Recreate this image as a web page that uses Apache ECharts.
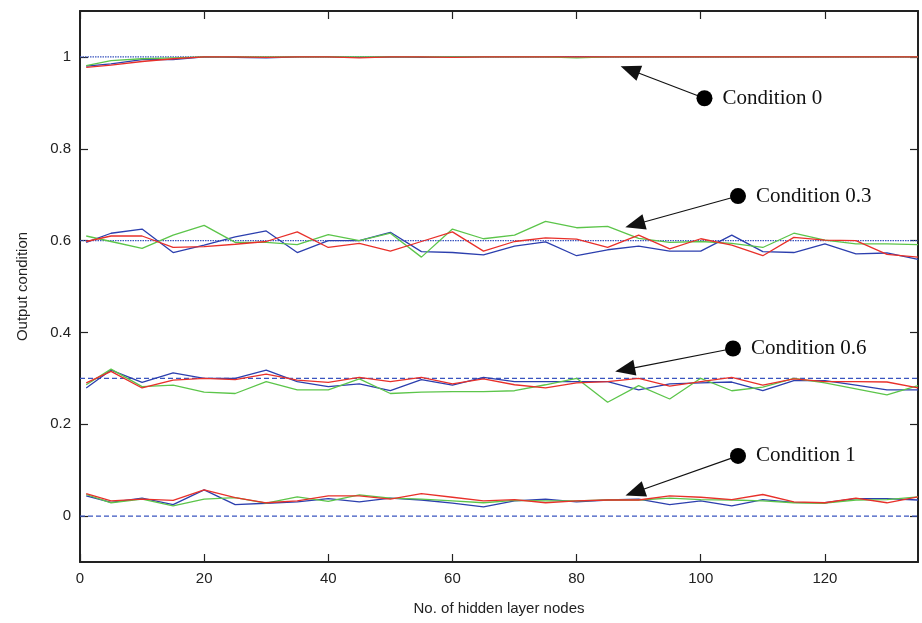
<!DOCTYPE html>
<html>
<head>
<meta charset="utf-8">
<script src="https://cdn.jsdelivr.net/npm/echarts@6/dist/echarts.min.js"></script>
<style>
  html, body { margin: 0; padding: 0; background: #fff; }
  #chart { width: 922px; height: 623px; }
</style>
</head>
<body>
<div id="chart"></div>
<script>
// hidden layer node counts (x)
var nodes = [1, 5, 10, 15, 20, 25, 30, 35, 40, 45, 50, 55, 60, 65, 70, 75, 80, 85, 90, 95, 100, 105, 110, 115, 120, 125, 130, 135];
var xTicks = [0, 20, 40, 60, 80, 100, 120];
var yTicks = [0, 0.2, 0.4, 0.6, 0.8, 1];

// condition 0 (target 1)
var c0Blue  = [0.980, 0.985, 0.994, 0.994, 1.000, 0.999, 0.998, 1.000, 1.000, 0.999, 1.000, 0.999, 1.000, 1.000, 1.000, 1.000, 1.000, 1.000, 1.000, 1.000, 1.000, 1.000, 1.000, 1.000, 1.000, 1.000, 1.000, 1.000];
var c0Red   = [0.977, 0.982, 0.990, 0.996, 1.000, 1.000, 0.999, 1.000, 1.000, 0.998, 1.000, 1.000, 0.999, 1.000, 1.000, 1.000, 1.000, 1.000, 1.000, 1.000, 1.000, 1.000, 1.000, 1.000, 1.000, 1.000, 1.000, 1.000];
var c0Green = [0.981, 0.992, 0.996, 0.998, 1.000, 1.000, 1.000, 1.000, 1.000, 1.000, 1.000, 1.000, 1.000, 1.000, 1.000, 1.000, 0.998, 1.000, 1.000, 1.000, 1.000, 1.000, 1.000, 1.000, 1.000, 1.000, 1.000, 1.000];

// condition 0.3 (target 0.6)
var c03Blue  = [0.596, 0.616, 0.625, 0.574, 0.590, 0.608, 0.621, 0.574, 0.600, 0.600, 0.618, 0.576, 0.574, 0.569, 0.588, 0.597, 0.567, 0.580, 0.588, 0.577, 0.577, 0.612, 0.576, 0.574, 0.593, 0.571, 0.573, 0.559];
var c03Red   = [0.598, 0.610, 0.610, 0.585, 0.587, 0.592, 0.598, 0.619, 0.585, 0.594, 0.577, 0.598, 0.619, 0.577, 0.598, 0.606, 0.603, 0.585, 0.612, 0.582, 0.604, 0.590, 0.567, 0.607, 0.601, 0.600, 0.570, 0.564];
var c03Green = [0.610, 0.598, 0.583, 0.612, 0.633, 0.596, 0.596, 0.591, 0.613, 0.600, 0.616, 0.564, 0.625, 0.604, 0.612, 0.642, 0.628, 0.631, 0.605, 0.596, 0.598, 0.594, 0.585, 0.616, 0.601, 0.593, 0.593, 0.591];

// condition 0.6 (target 0.3)
var c06Blue  = [0.279, 0.318, 0.291, 0.312, 0.300, 0.300, 0.318, 0.293, 0.282, 0.288, 0.273, 0.297, 0.285, 0.302, 0.293, 0.293, 0.293, 0.293, 0.275, 0.288, 0.290, 0.292, 0.273, 0.295, 0.295, 0.285, 0.275, 0.275];
var c06Red   = [0.290, 0.315, 0.279, 0.296, 0.300, 0.297, 0.309, 0.296, 0.291, 0.302, 0.293, 0.302, 0.288, 0.299, 0.286, 0.279, 0.290, 0.293, 0.300, 0.283, 0.293, 0.302, 0.285, 0.299, 0.293, 0.293, 0.292, 0.279];
var c06Green = [0.286, 0.320, 0.282, 0.285, 0.270, 0.267, 0.293, 0.275, 0.275, 0.299, 0.267, 0.270, 0.271, 0.271, 0.273, 0.286, 0.300, 0.248, 0.284, 0.255, 0.300, 0.273, 0.281, 0.300, 0.290, 0.277, 0.264, 0.284];

// condition 1 (target 0)
var c1Blue  = [0.044, 0.030, 0.039, 0.025, 0.057, 0.025, 0.028, 0.031, 0.038, 0.031, 0.039, 0.035, 0.028, 0.020, 0.033, 0.037, 0.031, 0.035, 0.037, 0.025, 0.033, 0.022, 0.036, 0.030, 0.029, 0.038, 0.038, 0.035];
var c1Red   = [0.049, 0.033, 0.037, 0.034, 0.057, 0.040, 0.029, 0.033, 0.044, 0.044, 0.037, 0.049, 0.041, 0.033, 0.036, 0.029, 0.033, 0.035, 0.035, 0.044, 0.041, 0.036, 0.047, 0.031, 0.029, 0.039, 0.029, 0.042];
var c1Green = [0.047, 0.029, 0.037, 0.022, 0.037, 0.040, 0.028, 0.042, 0.032, 0.046, 0.039, 0.037, 0.033, 0.029, 0.034, 0.033, 0.033, 0.035, 0.035, 0.039, 0.036, 0.035, 0.033, 0.029, 0.028, 0.035, 0.036, 0.042];

// target reference levels
var targets = [1, 0.6, 0.3, 0];

// annotations: label, dot position, arrow tip (data coords)
var noteLabels = ['Condition 0', 'Condition 0.3', 'Condition 0.6', 'Condition 1'];
var noteDotX = [100.6, 106.0, 105.2, 106.0];
var noteDotY = [0.910, 0.697, 0.365, 0.131];
var noteTipX = [88.6, 89.4, 87.8, 89.4];
var noteTipY = [0.972, 0.635, 0.319, 0.052];

var BLUE = '#2c3fae', RED = '#e8302a', GREEN = '#5cc54a', REF = '#3a55c0';

function pairs(ys) {
  return nodes.map(function (x, i) { return [x, ys[i]]; });
}
function curve(ys, color) {
  return {
    type: 'line', data: pairs(ys), symbol: 'none', silent: true,
    lineStyle: { color: color, width: 1.3 }, z: 3
  };
}

var series = [];
targets.forEach(function (t, i) {
  series.push({
    type: 'line', symbol: 'none', silent: true, z: 2,
    data: [[0, t], [135, t]],
    lineStyle: { color: REF, width: 1.2, type: i < 2 ? [1.5, 1] : [5, 3] }
  });
});
[[c0Blue, c0Green, c0Red], [c03Blue, c03Green, c03Red],
 [c06Blue, c06Green, c06Red], [c1Blue, c1Green, c1Red]].forEach(function (g) {
  series.push(curve(g[0], BLUE));
  series.push(curve(g[1], GREEN));
  series.push(curve(g[2], RED));
});

series.push({
  type: 'scatter', silent: true, z: 5,
  symbol: 'circle', symbolSize: 16,
  itemStyle: { color: '#000', opacity: 1 },
  data: noteLabels.map(function (l, i) { return { value: [noteDotX[i], noteDotY[i]], name: l }; }),
  label: {
    show: true, position: 'right', distance: 10,
    formatter: '{b}', color: '#111', opacity: 1,
    fontFamily: 'Liberation Serif', fontSize: 21
  },
  markLine: {
    silent: true, symbol: ['none', 'triangle'], symbolSize: [16, 20],
    label: { show: false },
    itemStyle: { color: '#000' },
    lineStyle: { color: '#111', width: 1.2, type: 'solid', opacity: 1 },
    data: noteLabels.map(function (l, i) {
      return [{ coord: [noteDotX[i], noteDotY[i]] }, { coord: [noteTipX[i], noteTipY[i]] }];
    })
  }
});

var axisFont = { fontFamily: 'Liberation Sans', fontSize: 15, color: '#222' };
var frameLine = { show: true, onZero: false, lineStyle: { color: '#222', width: 2 } };
var tickStyle = { color: '#222', width: 1.2 };

var option = {
  animation: false,
  backgroundColor: '#fff',
  grid: { left: 80, right: 4, top: 11, bottom: 61 },
  xAxis: [{
    type: 'value', min: 0, max: 135,
    name: 'No. of hidden layer nodes', nameLocation: 'middle', nameGap: 39,
    nameTextStyle: axisFont,
    axisLine: frameLine,
    axisTick: { inside: true, length: 8, customValues: xTicks, lineStyle: tickStyle },
    axisLabel: Object.assign({ margin: 9, customValues: xTicks }, axisFont),
    splitLine: { show: false }
  }, {
    type: 'value', min: 0, max: 135, position: 'top',
    axisLine: frameLine,
    axisTick: { inside: true, length: 8, customValues: xTicks, lineStyle: tickStyle },
    axisLabel: { show: false },
    splitLine: { show: false }
  }],
  yAxis: [{
    type: 'value', min: -0.1, max: 1.1,
    name: 'Output condition', nameLocation: 'middle', nameGap: 50,
    nameTextStyle: axisFont,
    axisLine: frameLine,
    axisTick: { inside: true, length: 8, customValues: yTicks, lineStyle: tickStyle },
    axisLabel: Object.assign({ margin: 9, customValues: yTicks }, axisFont),
    splitLine: { show: false }
  }, {
    type: 'value', min: -0.1, max: 1.1, position: 'right',
    axisLine: frameLine,
    axisTick: { inside: true, length: 8, customValues: yTicks, lineStyle: tickStyle },
    axisLabel: { show: false },
    splitLine: { show: false }
  }],
  series: series
};

var chart = echarts.init(document.getElementById('chart'));
chart.setOption(option);
</script>
</body>
</html>
